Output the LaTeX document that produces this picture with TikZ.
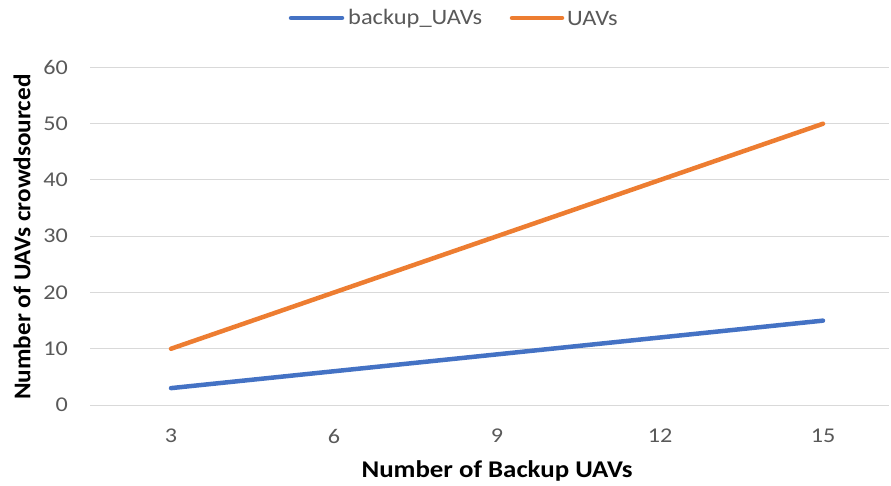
\documentclass[tikz,border=0pt]{standalone}
\usepackage{graphicx}
\usepackage{fontspec}
\setmainfont{Carlito}
\definecolor{ublue}{HTML}{4472C4}
\definecolor{uorange}{HTML}{ED7D31}
\definecolor{grid}{HTML}{D9D9D9}
\definecolor{txt}{HTML}{595959}
\newcommand\hstretch[2]{\scalebox{#1}[1]{#2}}
\begin{document}
\begin{tikzpicture}[x=1pt,y=-1pt,
  tick/.style={text=txt,font=\fontsize{21}{21}\selectfont,inner sep=0pt},
  ttl/.style={text=black,font=\fontsize{24}{24}\selectfont\bfseries,inner sep=0pt},
  leg/.style={text=txt,font=\fontsize{22}{22}\selectfont,inner sep=0pt,anchor=west},
  gridline/.style={grid,line width=1pt},
  series/.style={line width=4.5pt,line cap=round,line join=round}]
\useasboundingbox (0,0) rectangle (891,486);
% gridlines and y ticks
\foreach \v in {0,10,...,60}{
  \coordinate (gl\v) at (90,405-5.625*\v);
  \coordinate (gr\v) at (889,405-5.625*\v);
  \draw[gridline] (gl\v) -- (gr\v);
  \node[tick,anchor=east] (yt\v) at (68,405-5.625*\v) {\hstretch{1.15}{\v}};
}
% x ticks
\foreach \c/\i in {3/0,6/1,9/2,12/3,15/4}{
  \node[tick] (xt\c) at (171+163*\i,436) {\hstretch{1.15}{\c}};
}
% data points
\coordinate (b1) at (171,405-5.625*3);
\coordinate (b2) at (334,405-5.625*6);
\coordinate (b3) at (497,405-5.625*9);
\coordinate (b4) at (660,405-5.625*12);
\coordinate (b5) at (823,405-5.625*15);
\coordinate (o1) at (171,405-5.625*10);
\coordinate (o2) at (334,405-5.625*20);
\coordinate (o3) at (497,405-5.625*30);
\coordinate (o4) at (660,405-5.625*40);
\coordinate (o5) at (823,405-5.625*50);
\draw[series,ublue] (b1) -- (b2) -- (b3) -- (b4) -- (b5);
\draw[series,uorange] (o1) -- (o2) -- (o3) -- (o4) -- (o5);
% axis titles
\node[ttl] (xtitle) at (497,471) {\hstretch{1.12}{Number of Backup UAVs}};
\node[ttl,rotate=90] (ytitle) at (22,237) {\hstretch{1.05}{Number of UAVs crowdsourced}};
% legend
\coordinate (lb1) at (291,18);
\coordinate (lb2) at (342,18);
\draw[series,ublue] (lb1) -- (lb2);
\node[leg] (lbt) at (348,19) {\hstretch{1.11}{backup\_UAVs}};
\coordinate (lo1) at (512,18);
\coordinate (lo2) at (562,18);
\draw[series,uorange] (lo1) -- (lo2);
\node[leg] (lot) at (567,19) {\hstretch{1.11}{UAVs}};
\end{tikzpicture}
\end{document}
